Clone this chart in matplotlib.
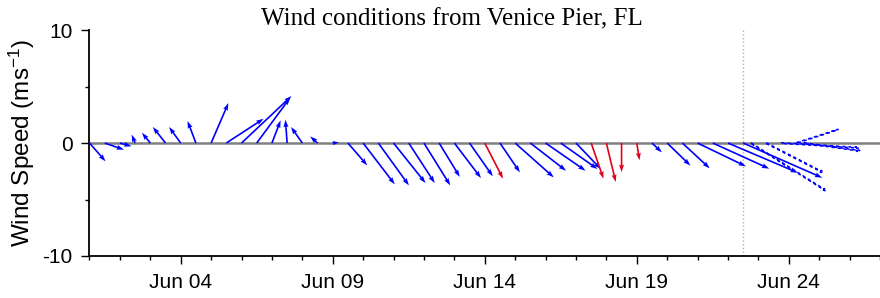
import matplotlib
matplotlib.use('Agg')
import matplotlib.pyplot as plt
import matplotlib.dates as mdates
import pandas as pd
import numpy as np

# observed winds, every 12 h from Jun 01 00:00 (m/s, east / north components)
obs_times = pd.date_range('2019-06-01 00:00', periods=44, freq='12h')
obs_u = [1.42, 1.71, 1.03, -0.30, -0.74, -1.12, -1.03, -0.74, 1.53, 3.30, 4.42,
         2.95, 0.77, -0.15, -1.00, -0.65, 0.55, 1.71, 2.80, 2.71, 2.83, 2.30,
         2.33, 1.83, 2.36, 2.06, 1.62, 1.77, 3.42, 3.16, 3.54, 3.25, 2.20, 1.09,
         0.83, 0.00, 0.24, 0.88, 2.06, 2.42, 4.28, 5.00, 6.19, 7.00]
obs_v = [-1.62, -0.59, -0.29, 0.75, 0.91, 1.42, 1.42, 1.95, 3.54, 2.15, 4.16,
         4.00, 2.00, 2.06, 1.42, 0.59, 0.05, -1.98, -3.66, -3.75, -3.54, -3.54,
         -3.75, -3.00, -3.10, -2.95, -3.16, -2.60, -3.04, -2.45, -2.45, -2.30,
         -2.30, -3.16, -3.45, -2.57, -1.53, -0.83, -2.00, -2.24, -2.06, -2.27,
         -2.63, -3.07]
# samples drawn in red
flagged = ['2019-06-14 00:00', '2019-06-17 12:00', '2019-06-18 00:00',
           '2019-06-18 12:00', '2019-06-19 00:00']

# forecast winds (dashed)
fc_times = pd.to_datetime(['2019-06-22 18:00', '2019-06-23 06:00', '2019-06-23 18:00',
                           '2019-06-24 06:00', '2019-06-24 12:00'])
fc_u = [6.7, 5.1, 6.9, 3.7, 5.0]
fc_v = [-4.25, -2.63, -0.42, 1.2, -0.7]

now = pd.Timestamp('2019-06-22 12:00')

plt.rcParams['font.family'] = 'Liberation Sans'
plt.rcParams['mathtext.fontset'] = 'custom'
plt.rcParams['mathtext.rm'] = 'Liberation Sans'
plt.rcParams['mathtext.it'] = 'Liberation Sans'
plt.rcParams['axes.unicode_minus'] = False

fig = plt.figure(figsize=(8.8, 2.98), dpi=100)
ax = fig.add_axes([0.1017, 0.141, 0.8983, 0.758])

ax.axhline(0, color='#808080', lw=1.8, zorder=2)
ax.axvline(mdates.date2num(now), color='#b0b0b0', lw=1, ls=':', zorder=1)

flag_set = set(pd.to_datetime(flagged))
colors = ['#e3001b' if t in flag_set else '#0000ff' for t in obs_times]
t_obs = mdates.date2num(obs_times)
ax.quiver(t_obs, np.zeros(len(t_obs)), obs_u, obs_v, color=colors,
          angles='uv', scale_units='y', scale=1, width=0.0021,
          headwidth=3, headlength=4.5, headaxislength=4, zorder=3)

t_fc = mdates.date2num(fc_times)
ax.quiver(t_fc, np.zeros(len(t_fc)), fc_u, fc_v, facecolor='none',
          edgecolor='#0000ff', linewidth=1.1, linestyle=(0, (2, 2)),
          angles='uv', scale_units='y', scale=1, width=0.0008,
          headwidth=3, headlength=5, headaxislength=4.5, zorder=3)

ax.set_xlim(mdates.date2num(pd.Timestamp('2019-06-01')),
            mdates.date2num(pd.Timestamp('2019-06-27')))
ax.set_ylim(-10, 10)
ax.set_yticks([-10, 0, 10])
ax.set_yticks([-5, 5], minor=True)
ax.xaxis.set_major_locator(mdates.DayLocator(bymonthday=[4, 9, 14, 19, 24]))
ax.xaxis.set_minor_locator(mdates.DayLocator())
ax.xaxis.set_major_formatter(mdates.DateFormatter('%b %d'))

for side in ['top', 'right']:
    ax.spines[side].set_visible(False)
for side in ['left', 'bottom']:
    ax.spines[side].set_linewidth(1.3)

ax.tick_params(which='major', length=6, width=1, labelsize=15, pad=6)
ax.tick_params(which='minor', length=3.2, width=1)

ax.set_ylabel('Wind Speed (ms$^{-1}$)', fontsize=17.5)
ax.yaxis.set_label_coords(-0.066, 0.5)
ax.set_title('Wind conditions from Venice Pier, FL', family='Liberation Serif',
             fontsize=18, x=0.4586, pad=3)

fig.savefig('out.png', dpi=100)
